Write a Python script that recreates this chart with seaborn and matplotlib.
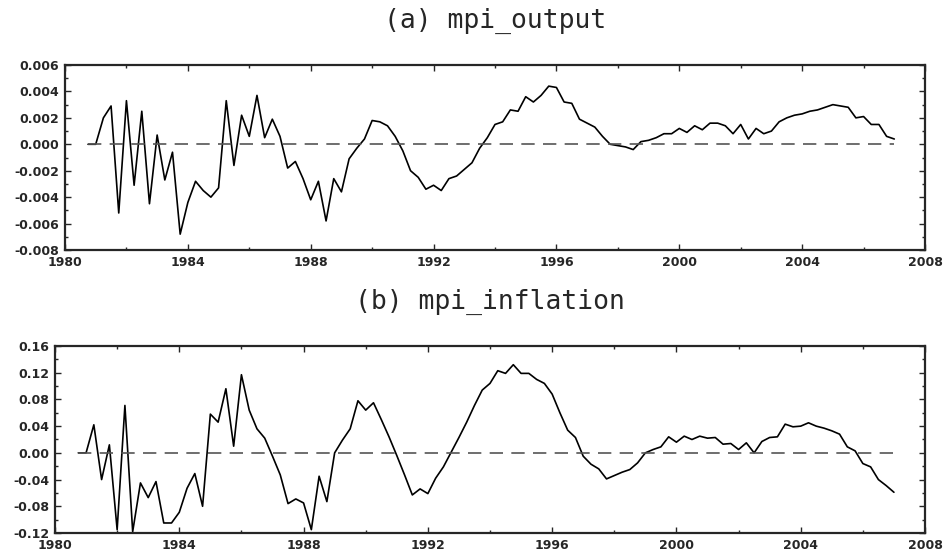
import numpy as np
import pandas as pd
import matplotlib
matplotlib.use("Agg")
import matplotlib.pyplot as plt
import seaborn as sns
from matplotlib.ticker import MultipleLocator, FormatStrFormatter

# quarterly, 1980Q4 .. 2007Q1
quarters = np.arange(1980.75, 2007.01, 0.25)

mpi_output = [
    0.0000, 0.0000, 0.0020, 0.0029, -0.0052, 0.0033, -0.0031, 0.0025,
    -0.0045, 0.0007, -0.0027, -0.0006, -0.0068, -0.0044, -0.0028, -0.0035,
    -0.0040, -0.0033, 0.0033, -0.0016, 0.0022, 0.0006, 0.0037, 0.0005,
    0.0019, 0.0006, -0.0018, -0.0013, -0.0026, -0.0042, -0.0028, -0.0058,
    -0.0026, -0.0036, -0.0011, -0.0003, 0.0004, 0.0018, 0.0017, 0.0014,
    0.0006, -0.0005, -0.0020, -0.0025, -0.0034, -0.0031, -0.0035, -0.0026,
    -0.0024, -0.0019, -0.0014, -0.0003, 0.0005, 0.0015, 0.0017, 0.0026,
    0.0025, 0.0036, 0.0032, 0.0037, 0.0044, 0.0043, 0.0032, 0.0031,
    0.0019, 0.0016, 0.0013, 0.0006, 0.0000, -0.0001, -0.0002, -0.0004,
    0.0002, 0.0003, 0.0005, 0.0008, 0.0008, 0.0012, 0.0009, 0.0014,
    0.0011, 0.0016, 0.0016, 0.0014, 0.0008, 0.0015, 0.0004, 0.0012,
    0.0008, 0.0010, 0.0017, 0.0020, 0.0022, 0.0023, 0.0025, 0.0026,
    0.0028, 0.0030, 0.0029, 0.0028, 0.0020, 0.0021, 0.0015, 0.0015,
    0.0006, 0.0004,
]

mpi_inflation = [
    0.000, 0.000, 0.042, -0.040, 0.012, -0.115, 0.071, -0.118,
    -0.045, -0.067, -0.043, -0.105, -0.105, -0.089, -0.053, -0.031,
    -0.080, 0.058, 0.046, 0.096, 0.010, 0.117, 0.064, 0.036,
    0.022, -0.005, -0.033, -0.076, -0.069, -0.075, -0.115, -0.035,
    -0.073, 0.000, 0.019, 0.036, 0.078, 0.064, 0.075, 0.050,
    0.024, -0.004, -0.033, -0.063, -0.054, -0.061, -0.038, -0.021,
    0.001, 0.023, 0.046, 0.071, 0.094, 0.104, 0.123, 0.119,
    0.132, 0.119, 0.119, 0.110, 0.104, 0.088, 0.060, 0.034,
    0.023, -0.005, -0.017, -0.024, -0.039, -0.034, -0.029, -0.025,
    -0.015, 0.000, 0.005, 0.009, 0.024, 0.016, 0.025, 0.020,
    0.025, 0.022, 0.023, 0.013, 0.014, 0.005, 0.015, 0.000,
    0.017, 0.023, 0.024, 0.043, 0.039, 0.040, 0.045, 0.040,
    0.037, 0.033, 0.028, 0.009, 0.003, -0.016, -0.021, -0.040,
    -0.049, -0.059,
]

titles = ["(a) mpi_output", "(b) mpi_inflation"]
year_ticks = list(range(1980, 2009, 4))

df = pd.DataFrame({"date": quarters, "mpi_output": mpi_output,
                   "mpi_inflation": mpi_inflation})

sns.set_style("ticks")
fig = plt.figure(figsize=(9.45, 5.52), dpi=100)
ax1 = fig.add_axes([65 / 945, 1 - 250 / 552, 860 / 945, 185 / 552])
ax2 = fig.add_axes([55 / 945, 1 - 533 / 552, 870 / 945, 187 / 552])

panels = [
    (ax1, "mpi_output", (-0.008, 0.006), 0.002, 0.001, "%.3f", 185),
    (ax2, "mpi_inflation", (-0.12, 0.16), 0.04, 0.02, "%.2f", 187),
]

for (ax, col, ylim, major, minor, fmt, h), title in zip(panels, titles):
    sns.lineplot(data=df, x="date", y=col, ax=ax, color="black", linewidth=1.2)
    ax.plot([quarters[0], quarters[-1]], [0, 0], color="#555555",
            linestyle=(0, (8, 5)), linewidth=1.2)
    ax.set_xlim(1980, 2008)
    ax.set_ylim(*ylim)
    ax.set_xticks(year_ticks)
    ax.xaxis.set_minor_locator(MultipleLocator(2))
    ax.yaxis.set_major_locator(MultipleLocator(major))
    ax.yaxis.set_minor_locator(MultipleLocator(minor))
    ax.yaxis.set_major_formatter(FormatStrFormatter(fmt))
    ax.set_xlabel("")
    ax.set_ylabel("")
    ax.tick_params(which="both", direction="in", top=True, right=True,
                   labelsize=9, pad=4)
    ax.tick_params(which="major", length=4, width=1)
    ax.tick_params(which="minor", length=2.5, width=1)
    for lab in ax.get_xticklabels() + ax.get_yticklabels():
        lab.set_fontweight("bold")
    for sp in ax.spines.values():
        sp.set_linewidth(1.6)
    ax.text(0.5, 1 + 44 / h, title, transform=ax.transAxes, ha="center",
            va="center", fontsize=19, family="DejaVu Sans Mono")

fig.savefig("out.png", dpi=100)
